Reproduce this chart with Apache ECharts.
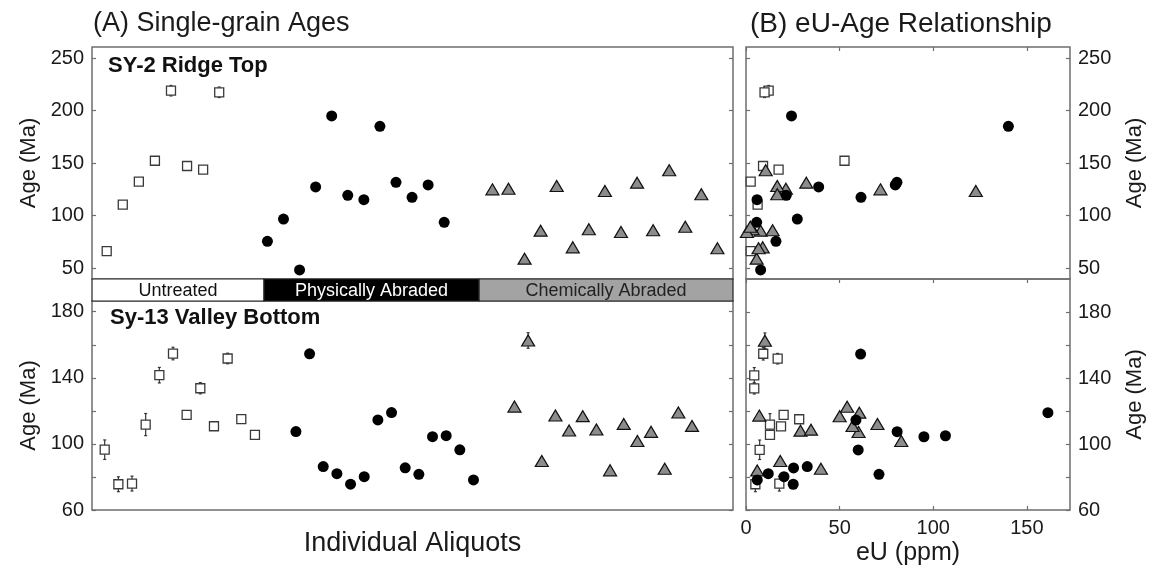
<!DOCTYPE html>
<html>
<head>
<meta charset="utf-8">
<script src="https://cdn.jsdelivr.net/npm/echarts@6/dist/echarts.min.js"></script>
<style>
  html, body { margin: 0; padding: 0; background: #fff; }
  #chart { width: 1153px; height: 569px; }
</style>
</head>
<body>
<div id="chart"></div>
<script>
// ---- SY-2 Ridge Top: aliquot slot, age (Ma), 1-sigma error, eU (ppm)
const sy2UntreatedSlot = [0, 1, 2, 3, 4, 5, 6, 7];
const sy2UntreatedAge  = [66, 110.4, 132.3, 152.3, 219.1, 147.3, 143.8, 217.6];
const sy2UntreatedErr  = [0, 0, 0, 0, 5, 0, 0, 5];
const sy2UntreatedEU   = [2.5, 6.2, 2.5, 52.6, 12.1, 9.1, 17.4, 9.9];

const sy2PhysSlot = [10, 11, 12, 13, 14, 15, 16, 17, 18, 19, 20, 21];
const sy2PhysAge  = [75.4, 96.7, 48.1, 127.3, 195, 119.3, 115.2, 185.1, 131.7, 117.4, 129.2, 93.6];
const sy2PhysEU   = [16, 27.4, 7.8, 38.8, 24.3, 21.5, 5.9, 140.1, 80.6, 61.4, 79.7, 5.7];

const sy2ChemSlot = [24, 25, 26, 27, 28, 29, 30, 31, 32, 33, 34, 35, 36, 37, 38];
const sy2ChemAge  = [125, 125.6, 58.9, 85.6, 128.2, 69.7, 86.9, 123.4, 84.3, 131.4, 86, 143.2, 89.4, 120.3, 68.8];
const sy2ChemEU   = [71.8, 21.3, 5.7, 7.8, 16.7, 8.9, 3.5, 122.7, 0.5, 32.2, 14.2, 10.5, 2.3, 16.7, 6.7];

// ---- Sy-13 Valley Bottom
const sy13UntreatedSlot = [0, 1, 2, 3, 4, 5, 6, 7, 8, 9, 10, 11];
const sy13UntreatedAge  = [96.5, 75.6, 76, 111.7, 141.6, 154.7, 117.6, 133.7, 110.7, 151.7, 115, 105.5];
const sy13UntreatedErr  = [5.9, 4.5, 4.5, 6.7, 4.7, 3.8, 0, 3.4, 0, 3.2, 0, 0];
const sy13UntreatedEU   = [7.3, 5, 17.8, 12.8, 4.4, 9.2, 20.1, 4.4, 18.7, 16.9, 28.4, 12.8];

const sy13PhysSlot = [14, 15, 16, 17, 18, 19, 20, 21, 22, 23, 24, 25, 26, 27];
const sy13PhysAge  = [107.5, 154.5, 86.3, 82, 75.6, 80.2, 114.5, 119, 85.5, 81.6, 104.4, 105, 96.4, 78.2];
const sy13PhysEU   = [80.7, 61.2, 32.7, 11.9, 25.2, 20.3, 58.7, 161.2, 25.4, 71, 95, 106.5, 59.9, 6];

const sy13ChemSlot = [30, 31, 32, 33, 34, 35, 36, 37, 38, 39, 40, 41, 42, 43];
const sy13ChemAge  = [122.6, 162.6, 89.7, 117.2, 108.1, 116.8, 108.7, 84, 112.1, 101.8, 107.3, 85, 119, 110.9];
const sy13ChemErr  = [0, 4.7, 0, 0, 0, 0, 0, 0, 0, 0, 0, 0, 0, 0];
const sy13ChemEU   = [54, 10.1, 18.3, 7.1, 29.1, 50, 34.7, 6, 70.2, 82.9, 60.1, 40, 60.5, 56.9];

// ---- treatment band (edges in SY-2 slot units)
const bandNames = ['Untreated', 'Physically Abraded', 'Chemically Abraded'];
const bandEdges = [-0.915, 9.79, 23.17, 38.97];

// ---- tick values
const ageTicksTop = [50, 100, 150, 200, 250];
const ageLabelsBottom = [60, 100, 140, 180];
const ageTicksBottom = [60, 80, 100, 120, 140, 160, 180];
const euTicks = [0, 50, 100, 150];

const FONT = 'Liberation Sans';
const INK = '#1a1a1a';
const FRAME = '#6e6e6e';
const bandFill = ['#ffffff', '#000000', '#a3a3a3'];
const bandText = ['#111111', '#ffffff', '#222222'];

const zip = (a, b) => a.map((v, i) => [v, b[i]]);
const zipErr = (a, b, e) => a.map((v, i) => [v, b[i], e[i]]).filter(r => r[2] > 0);

const squareStyle = { color: '#ffffff', borderColor: '#3a3a3a', borderWidth: 1.3, opacity: 1 };
const circleStyle = { color: '#000000', opacity: 1 };
const triStyle = { color: '#8c8c8c', borderColor: '#111111', borderWidth: 1.2, opacity: 1 };

function errItem(params, api) {
  const x = api.value(0), y = api.value(1), e = api.value(2);
  const lo = api.coord([x, y - e]);
  const hi = api.coord([x, y + e]);
  const st = { stroke: '#333', lineWidth: 1.2 };
  return {
    type: 'group',
    children: [
      { type: 'line', shape: { x1: lo[0], y1: lo[1], x2: hi[0], y2: hi[1] }, style: st },
      { type: 'line', shape: { x1: lo[0] - 1.5, y1: lo[1], x2: lo[0] + 1.5, y2: lo[1] }, style: st },
      { type: 'line', shape: { x1: hi[0] - 1.5, y1: hi[1], x2: hi[0] + 1.5, y2: hi[1] }, style: st }
    ]
  };
}

function errSeries(xi, yi, data) {
  return {
    type: 'custom', xAxisIndex: xi, yAxisIndex: yi, z: 1,
    renderItem: errItem, encode: { x: 0, y: 1 }, data: data, silent: true
  };
}

function scatter(xi, yi, data, kind) {
  const base = { type: 'scatter', xAxisIndex: xi, yAxisIndex: yi, data: data, silent: true };
  if (kind === 'square') return Object.assign(base, { symbol: 'rect', symbolSize: 9, itemStyle: squareStyle, z: 2 });
  if (kind === 'tri') return Object.assign(base, { symbol: 'triangle', symbolSize: [13, 11], itemStyle: triStyle, z: 3 });
  return Object.assign(base, { symbol: 'circle', symbolSize: 11, itemStyle: circleStyle, z: 4 });
}

const tickLabel = { fontFamily: FONT, fontSize: 20, color: INK };
const nameText = { fontFamily: FONT, fontSize: 22, color: INK };
const tickLine = { color: FRAME, width: 1.2 };

function hiddenX(grid, min, max, extra) {
  return Object.assign({
    type: 'value', gridIndex: grid, min: min, max: max,
    axisLine: { show: false, onZero: false }, axisTick: { show: false },
    axisLabel: { show: false }, splitLine: { show: false }
  }, extra || {});
}

function ageAxis(grid, min, max, pos, ticks, labels, name) {
  return {
    type: 'value', gridIndex: grid, min: min, max: max, position: pos,
    axisLine: { show: false, onZero: false },
    splitLine: { show: false },
    axisTick: { show: true, inside: true, length: 4, lineStyle: tickLine, customValues: ticks },
    axisLabel: labels ? Object.assign({ show: true, margin: 8, customValues: labels }, tickLabel) : { show: false },
    name: name || '',
    nameLocation: 'middle',
    nameRotate: 90,
    nameGap: pos === 'left' ? 52 : 54,
    nameTextStyle: nameText
  };
}

function euAxis(pos, labels, name) {
  return {
    type: 'value', gridIndex: pos === 'top3' ? 3 : 4, min: 0, max: 173,
    position: pos === 'bottom' ? 'bottom' : 'top',
    axisLine: { show: false, onZero: false }, splitLine: { show: false },
    axisTick: { show: true, inside: true, length: 4, lineStyle: tickLine, customValues: euTicks },
    axisLabel: labels ? Object.assign({ show: true, margin: 8, customValues: euTicks }, tickLabel) : { show: false },
    name: name || '', nameLocation: 'middle', nameGap: 31,
    nameTextStyle: { fontFamily: FONT, fontSize: 25, color: INK, verticalAlign: 'top' }
  };
}

const gridBase = { show: true, borderColor: FRAME, borderWidth: 1.5, backgroundColor: 'transparent', outerBoundsMode: 'none' };
const titleText = { fontFamily: FONT, fontSize: 27, fontWeight: 'normal', color: INK };
const panelText = { fontFamily: FONT, fontSize: 22, fontWeight: 'bold', color: '#111' };

const option = {
  animation: false,
  backgroundColor: '#ffffff',
  title: [
    { text: '(A) Single-grain Ages', left: 93, top: 10, padding: 0, textStyle: titleText },
    { text: '(B) eU-Age Relationship', left: 750, top: 10, padding: 0, textStyle: Object.assign({}, titleText, { fontSize: 28 }) },
    { text: 'SY-2 Ridge Top', left: 108, top: 55, padding: 0, textStyle: panelText },
    { text: 'Sy-13 Valley Bottom', left: 110, top: 307, padding: 0, textStyle: panelText }
  ],
  grid: [
    Object.assign({ left: 92, top: 47, width: 641, height: 232 }, gridBase),
    { left: 92, top: 279, width: 641, height: 22, show: false, outerBoundsMode: 'none' },
    Object.assign({ left: 92, top: 301, width: 641, height: 209 }, gridBase),
    Object.assign({ left: 746, top: 47, width: 324, height: 232 }, gridBase),
    Object.assign({ left: 746, top: 279, width: 324, height: 231 }, gridBase)
  ],
  xAxis: [
    hiddenX(0, -0.915, 38.97),
    hiddenX(1, -0.915, 38.97),
    hiddenX(2, -0.93, 46.0, {
      name: 'Individual Aliquots', nameLocation: 'middle', nameGap: 20,
      nameTextStyle: { fontFamily: FONT, fontSize: 27, color: INK, verticalAlign: 'top' }
    }),
    euAxis('top3', false),
    euAxis('bottom', true, 'eU (ppm)'),
    euAxis('top4', false)
  ],
  yAxis: [
    ageAxis(0, 39.5, 260.8, 'left', ageTicksTop, ageTicksTop, 'Age (Ma)'),
    ageAxis(0, 39.5, 260.8, 'right', ageTicksTop, null),
    { type: 'value', gridIndex: 1, min: 0, max: 1, show: false },
    ageAxis(2, 60, 186.5, 'left', ageTicksBottom, ageLabelsBottom, 'Age (Ma)'),
    ageAxis(2, 60, 186.5, 'right', ageTicksBottom, null),
    ageAxis(3, 39.5, 260.8, 'left', ageTicksTop, null),
    ageAxis(3, 39.5, 260.8, 'right', ageTicksTop, ageTicksTop, 'Age (Ma)'),
    ageAxis(4, 60, 200, 'left', ageTicksBottom, null),
    ageAxis(4, 60, 200, 'right', ageTicksBottom, ageLabelsBottom, 'Age (Ma)')
  ],
  series: [
    // treatment band
    {
      type: 'custom', xAxisIndex: 1, yAxisIndex: 2, silent: true, z: 5,
      encode: { x: [0, 1] },
      data: bandNames.map((n, i) => [bandEdges[i], bandEdges[i + 1], i]),
      renderItem: function (params, api) {
        const i = api.value(2);
        const p0 = api.coord([api.value(0), 1]);
        const p1 = api.coord([api.value(1), 0]);
        return {
          type: 'group',
          children: [
            { type: 'rect', shape: { x: p0[0], y: p0[1], width: p1[0] - p0[0], height: p1[1] - p0[1] },
              style: { fill: bandFill[i], stroke: '#222', lineWidth: 1.2 } },
            { type: 'text', style: { text: bandNames[i], x: (p0[0] + p1[0]) / 2, y: (p0[1] + p1[1]) / 2 + 1,
              align: 'center', verticalAlign: 'middle', fill: bandText[i], fontFamily: FONT, fontSize: 18 } }
          ]
        };
      }
    },
    // (A) SY-2
    errSeries(0, 0, zipErr(sy2UntreatedSlot, sy2UntreatedAge, sy2UntreatedErr)),
    scatter(0, 0, zip(sy2UntreatedSlot, sy2UntreatedAge), 'square'),
    scatter(0, 0, zip(sy2PhysSlot, sy2PhysAge), 'circle'),
    scatter(0, 0, zip(sy2ChemSlot, sy2ChemAge), 'tri'),
    // (A) Sy-13
    errSeries(2, 3, zipErr(sy13UntreatedSlot, sy13UntreatedAge, sy13UntreatedErr)),
    errSeries(2, 3, zipErr(sy13ChemSlot, sy13ChemAge, sy13ChemErr)),
    scatter(2, 3, zip(sy13UntreatedSlot, sy13UntreatedAge), 'square'),
    scatter(2, 3, zip(sy13PhysSlot, sy13PhysAge), 'circle'),
    scatter(2, 3, zip(sy13ChemSlot, sy13ChemAge), 'tri'),
    // (B) SY-2 eU vs age
    errSeries(3, 5, zipErr(sy2UntreatedEU, sy2UntreatedAge, sy2UntreatedErr)),
    scatter(3, 5, zip(sy2UntreatedEU, sy2UntreatedAge), 'square'),
    scatter(3, 5, zip(sy2ChemEU, sy2ChemAge), 'tri'),
    scatter(3, 5, zip(sy2PhysEU, sy2PhysAge), 'circle'),
    // (B) Sy-13 eU vs age
    errSeries(4, 7, zipErr(sy13UntreatedEU, sy13UntreatedAge, sy13UntreatedErr)),
    errSeries(4, 7, zipErr(sy13ChemEU, sy13ChemAge, sy13ChemErr)),
    scatter(4, 7, zip(sy13UntreatedEU, sy13UntreatedAge), 'square'),
    scatter(4, 7, zip(sy13ChemEU, sy13ChemAge), 'tri'),
    scatter(4, 7, zip(sy13PhysEU, sy13PhysAge), 'circle')
  ]
};

const chart = echarts.init(document.getElementById('chart'), null, { renderer: 'canvas' });
chart.setOption(option);
</script>
</body>
</html>
